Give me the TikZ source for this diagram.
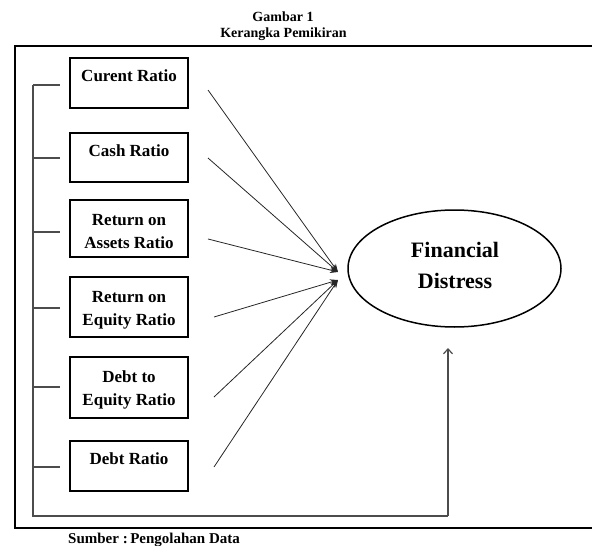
\documentclass[tikz,border=0pt]{standalone}
\usepackage{fontspec}
\setmainfont{Liberation Serif}
\usetikzlibrary{arrows.meta,shapes.geometric}
\begin{document}
\begin{tikzpicture}[x=1pt,y=-1pt,
  box/.style={draw,line width=1.4pt,minimum width=118pt,minimum height=50pt,inner sep=0pt},
  lbl/.style={anchor=base,font=\bfseries\fontsize{17}{20}\selectfont,inner sep=0pt},
  big/.style={anchor=base,font=\bfseries\fontsize{22}{26}\selectfont,inner sep=0pt},
  ttl/.style={anchor=base,font=\bfseries\fontsize{14}{16}\selectfont,inner sep=0pt},
  conn/.style={line width=0.8pt,draw=black!85},
  arr/.style={conn,-{Stealth[length=8pt,width=6pt]}},
  bus/.style={line width=1.2pt,draw=black!70}]
\useasboundingbox (0,0) rectangle (592,546);
\clip (0,0) rectangle (592,546);
% title
\node[ttl] (t1) at (283,21.7) {Gambar 1};
\node[ttl] (t2) at (283.5,37.7) {Kerangka Pemikiran};
% frame
\draw[line width=1.8pt] (600,46) -- (15,46) -- (15,528) -- (600,528);
% boxes
\node[box,minimum height=50pt] (b1) at (129,83) {};
\node[box,minimum height=49pt] (b2) at (129,157.5) {};
\node[box,minimum height=57pt] (b3) at (129,228.5) {};
\node[box,minimum height=60pt] (b4) at (129,307) {};
\node[box,minimum height=61pt] (b5) at (129,387.5) {};
\node[box,minimum height=50pt] (b6) at (129,466) {};
\node[lbl] (l1) at (129,81.7) {Curent Ratio};
\node[lbl] (l2) at (129,156) {Cash Ratio};
\node[lbl] (l3a) at (129,225) {Return on};
\node[lbl] (l3b) at (129,248) {Assets Ratio};
\node[lbl] (l4a) at (129,302) {Return on};
\node[lbl] (l4b) at (129,325) {Equity Ratio};
\node[lbl] (l5a) at (129,382) {Debt to};
\node[lbl] (l5b) at (129,405) {Equity Ratio};
\node[lbl] (l6) at (129,464) {Debt Ratio};
% ellipse
\node[draw,ellipse,line width=1.5pt,minimum width=213pt,minimum height=117pt,inner sep=0pt] (fd) at (454.5,268.5) {};
\node[big] (f1) at (455,257) {Financial};
\node[big] (f2) at (455,288) {Distress};
% arrow coordinates
\coordinate (s1) at (208,90);
\coordinate (s2) at (208,158);
\coordinate (s3) at (208,239);
\coordinate (s4) at (214,317);
\coordinate (s5) at (214,397);
\coordinate (s6) at (214,467);
\coordinate (eU) at (338,272);
\coordinate (eL) at (338,280);
\draw[arr] (s1) -- (eU);
\draw[arr] (s2) -- (eU);
\draw[arr] (s3) -- (eU);
\draw[arr] (s4) -- (eL);
\draw[arr] (s5) -- (eL);
\draw[arr] (s6) -- (eL);
% bus
\coordinate (bt) at (33,85);
\coordinate (bb) at (33,516);
\coordinate (br) at (448,516);
\coordinate (bu) at (448,348);
\draw[bus] (bt) -- (bb) -- (br);
\draw[bus,-{Straight Barb[length=5pt,width=9pt]}] (br) -- (bu);
\foreach \y/\n in {85/1,158/2,232/3,308/4,387/5,467/6}{
  \coordinate (k\n) at (33,\y);
  \coordinate (m\n) at (60,\y);
  \draw[bus] (k\n) -- (m\n);
}
% footer
\node[ttl,anchor=base west,font=\bfseries\fontsize{15}{18}\selectfont] (src) at (68,543) {Sumber :\,Pengolahan Data};
\end{tikzpicture}
\end{document}
